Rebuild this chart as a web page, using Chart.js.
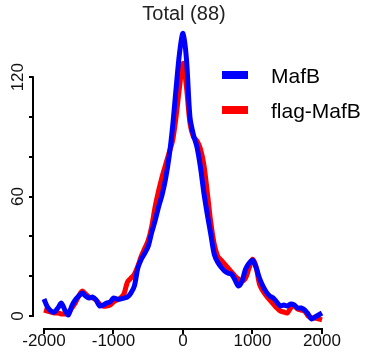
<!DOCTYPE html>
<html>
<head>
<meta charset="utf-8">
<script src="https://cdn.jsdelivr.net/npm/chart.js@4"></script>
<style>
  body { margin: 0; background: #fff; }
</style>
</head>
<body>
<canvas id="chart" width="370" height="353"></canvas>
<script>
const titleText = "Total (88)";

// distance from centre (bp)
const positions = [
  -2000, -1950, -1900, -1850, -1800, -1750, -1700, -1650, -1600, -1550,
  -1500, -1450, -1400, -1350, -1300, -1250, -1200, -1150, -1100, -1050,
  -1000, -950, -900, -850, -800, -750, -700, -650, -600, -550,
  -500, -450, -400, -350, -300, -250, -200, -150, -100, -50,
  0, 50, 100, 150, 200, 250, 300, 350, 400, 450,
  500, 550, 600, 650, 700, 750, 800, 850, 900, 950,
  1000, 1050, 1100, 1150, 1200, 1250, 1300, 1350, 1400, 1450,
  1500, 1550, 1600, 1650, 1700, 1750, 1800, 1850, 1900, 1950,
  2000,
];

const mafb = [
  8.5, 4.5, 2.5, 2, 4, 6.5, 3, 0.5, 5, 8,
  10, 11.5, 10, 9, 9.5, 8, 5, 5.5, 6.5, 7,
  9, 8.5, 8.5, 9, 9.5, 11.5, 15, 24, 28.5, 31.5,
  35, 42, 48, 55, 61, 69, 80, 95, 114, 132,
  142, 129, 100, 91, 85, 75, 62, 51, 41, 31,
  27, 24.5, 22.5, 21.5, 21, 18, 15, 17.5, 23.5, 26.5,
  28, 24.5, 19, 15, 12, 10, 9, 7, 5, 5.5,
  5, 6, 5.5, 4, 4, 3, 1, -1.5, -0.5, 0.5,
  1.5,
];

const flagMafb = [
  3, 2.5, 2, 1.5, 1.5, 1, 1, 1.5, 4, 6.5,
  10, 12.5, 11, 9.5, 9, 8, 6, 5, 5, 5.5,
  7, 8, 9, 11, 17, 19, 21, 25, 30, 34,
  38, 45, 55, 63, 70, 76, 82, 88, 100, 115,
  127, 115, 97, 90, 88, 84, 76, 62, 47, 36,
  30, 28, 26, 24, 22, 20, 18.5, 17.5, 19, 24,
  28.5, 25, 16, 12.5, 10, 8, 6, 4, 2.5, 2,
  1.5, 4, 5, 3.5, 3, 2.5, 0, -1, -1, -1.5,
  -2,
];

const seriesNames = ["MafB", "flag-MafB"];
const seriesColors = ["#0000ff", "#ff0000"];

const xTicks = [-2000, -1000, 0, 1000, 2000];
const yTicks = [0, 20, 40, 60, 80, 100, 120];
const yLabels = [0, 60, 120];

const fontFamily = "'Liberation Sans', Arial, sans-serif";

// R style detached axes, rotated y labels, title and legend
const axesPlugin = {
  id: "axes",
  afterDraw(chart) {
    const ctx = chart.ctx;
    const x = chart.scales.x;
    const y = chart.scales.y;
    const area = chart.chartArea;
    ctx.save();
    ctx.strokeStyle = "#000";
    ctx.lineWidth = 2;
    ctx.beginPath();
    ctx.moveTo(area.left, y.getPixelForValue(yTicks[0]) + 1);
    ctx.lineTo(area.left, y.getPixelForValue(yTicks[yTicks.length - 1]) - 1);
    ctx.moveTo(x.getPixelForValue(xTicks[0]) - 1, area.bottom);
    ctx.lineTo(x.getPixelForValue(xTicks[xTicks.length - 1]) + 1, area.bottom);
    ctx.stroke();

    ctx.fillStyle = "#111";
    ctx.font = "17px " + fontFamily;
    ctx.textAlign = "center";
    ctx.textBaseline = "middle";
    yLabels.forEach((v) => {
      ctx.save();
      ctx.translate(area.left - 15, y.getPixelForValue(v));
      ctx.rotate(-Math.PI / 2);
      ctx.fillText(String(v), 0, 0);
      ctx.restore();
    });

    // title over the centre of the x range
    ctx.fillStyle = "#222";
    ctx.font = "20px " + fontFamily;
    ctx.fillText(titleText, x.getPixelForValue(0) + 1, 14.5);

    // legend
    ctx.lineWidth = 8;
    ctx.font = "21px " + fontFamily;
    ctx.fillStyle = "#000";
    ctx.textAlign = "left";
    ctx.textBaseline = "alphabetic";
    const rows = [75, 110];
    seriesNames.forEach((name, i) => {
      ctx.strokeStyle = seriesColors[i];
      ctx.beginPath();
      ctx.moveTo(222, rows[i]);
      ctx.lineTo(248, rows[i]);
      ctx.stroke();
      ctx.fillText(name, 271, rows[i] + 8);
    });
    ctx.restore();
  },
};

const renderChart = () => {
  const canvas = document.getElementById("chart");
  const series = [mafb, flagMafb];
  new Chart(canvas, {
    type: "line",
    data: {
      datasets: series.map((values, i) => ({
        label: seriesNames[i],
        data: positions.map((p, j) => ({ x: p, y: values[j] })),
        borderColor: seriesColors[i],
        backgroundColor: seriesColors[i],
        borderWidth: 5,
        pointRadius: 0,
        tension: 0.3,
        fill: false,
        clip: false,
      })),
    },
    options: {
      responsive: false,
      animation: false,
      layout: { padding: { left: 0, right: 48, top: 30, bottom: 4 } },
      plugins: {
        legend: { display: false },
        tooltip: { enabled: false },
        title: { display: false },
      },
      scales: {
        x: {
          type: "linear",
          min: -2158,
          max: 2000,
          afterBuildTicks: (scale) => {
            scale.ticks = xTicks.map((v) => ({ value: v }));
          },
          border: { display: false },
          grid: {
            drawOnChartArea: false,
            drawTicks: true,
            tickLength: 5,
            color: "#000",
            lineWidth: 2,
          },
          ticks: {
            autoSkip: false,
            maxRotation: 0,
            padding: -1,
            color: "#111",
            font: { family: fontFamily, size: 17, lineHeight: 1.0 },
            callback: (v) => String(v),
          },
        },
        y: {
          min: -6.55,
          max: 143.7,
          afterBuildTicks: (scale) => {
            scale.ticks = yTicks.map((v) => ({ value: v }));
          },
          afterFit: (scale) => {
            scale.width = 33;
          },
          border: { display: false },
          grid: {
            drawOnChartArea: false,
            drawTicks: true,
            tickLength: 4,
            color: "#000",
            lineWidth: 2,
          },
          ticks: { display: false },
        },
      },
    },
    plugins: [axesPlugin],
  });
};

renderChart();
</script>
</body>
</html>
